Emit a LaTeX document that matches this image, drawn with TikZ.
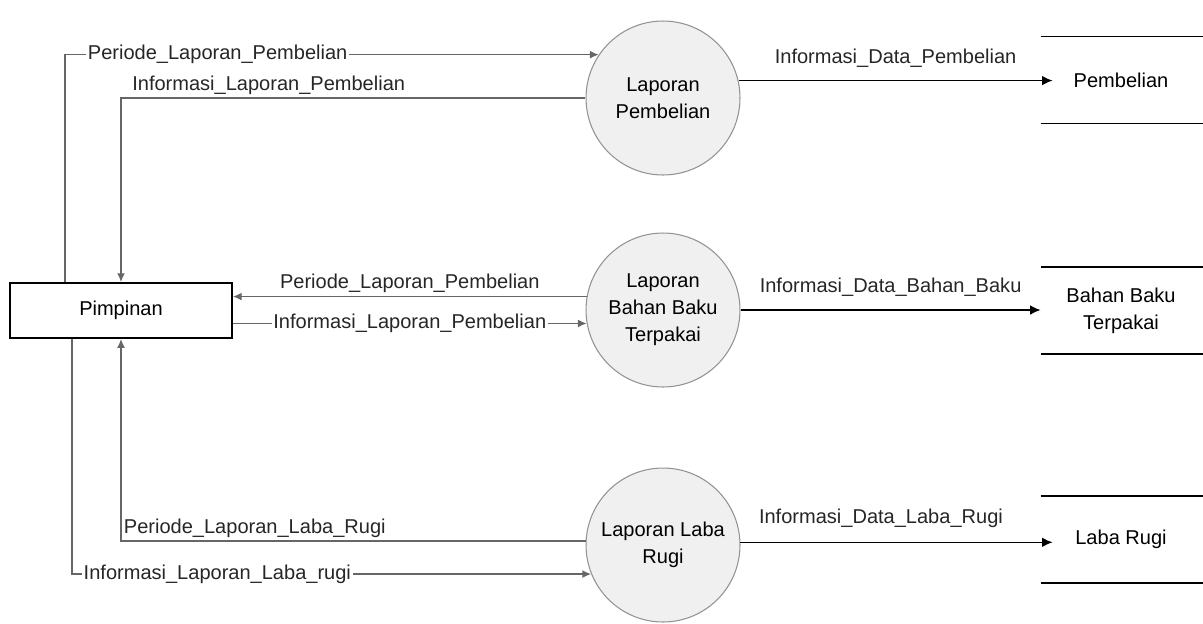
\documentclass[tikz,border=0pt]{standalone}
\usepackage{fontspec}
\setmainfont{Liberation Sans}
\usetikzlibrary{arrows.meta}
\begin{document}
\begin{tikzpicture}[x=0.02cm,y=-0.02cm,
        font=\fontsize{11.4}{15.3}\selectfont,
        proses/.style={draw=gray!85,fill=gray!12,line width=0.6pt,circle,minimum size=3.08cm,inner sep=0,align=center},
        entitas/.style={draw,line width=1.1pt,minimum width=4.44cm,minimum height=1.1cm},
        simpan/.style={minimum width=3.2cm,minimum height=1.72cm,align=center},
        aliran/.style={draw=gray!80!black,line width=0.8pt,-{Latex[length=5pt,width=4.5pt]}},
        keluar/.style={draw=black,line width=0.9pt,-{Latex[length=6pt,width=5.5pt]}},
        ket/.style={fill=white,inner sep=1pt,text=black!85}]
        \useasboundingbox (0,0) rectangle (1203,623);
        \node[entitas] (pimpinan) at (121,310.5) {Pimpinan};
        \node[proses] (lpb) at (663,98) {Laporan\\Pembelian};
        \node[proses] (lbb) at (663,310) {Laporan\\Bahan Baku\\Terpakai};
        \node[proses] (llr) at (663,545) {Laporan Laba\\Rugi};
        \node[simpan] (pembelian) at (1121,80) {Pembelian};
        \node[simpan] (bahanbaku) at (1121,310.5) {Bahan Baku\\Terpakai};
        \node[simpan] (labarugi) at (1121,539.5) {Laba Rugi};
        \foreach \s in {pembelian,bahanbaku,labarugi}{
            \draw[line width=0.9pt] (\s.north west) -- ++(4cm,0);
            \draw[line width=0.9pt] (\s.south west) -- ++(4cm,0);
        }
        \draw[aliran] ([xshift=-1.12cm]pimpinan.north) |- (lpb.146)
            node[ket,pos=0.643]{Periode\_Laporan\_Pembelian};
        \draw[aliran] (lpb.west) -| (pimpinan.north)
            node[ket,pos=0.341,above=0.5pt,fill=none]{Informasi\_Laporan\_Pembelian};
        \draw[aliran] (lbb.170) -- (lbb.170 -| pimpinan.east)
            node[ket,midway,above=1pt,fill=none]{Periode\_Laporan\_Pembelian};
        \draw[aliran] (lbb.190 -| pimpinan.east) -- (lbb.190)
            node[ket,midway]{Informasi\_Laporan\_Pembelian};
        \draw[aliran] (llr.177) -| (pimpinan.south)
            node[ket,pos=0.356,above=0.5pt,fill=none]{Periode\_Laporan\_Laba\_Rugi};
        \draw[aliran] ([xshift=-0.98cm]pimpinan.south) |- (llr.202)
            node[ket,pos=0.64]{Informasi\_Laporan\_Laba\_rugi};
        \draw[keluar] (lpb.13) -- ([xshift=0.24cm]lpb.13 -| pembelian.west)
            node[ket,midway,above=6pt,fill=none]{Informasi\_Data\_Pembelian};
        \draw[keluar] (lbb.east) -- (lbb.east -| bahanbaku.west)
            node[ket,midway,above=6pt,fill=none]{Informasi\_Data\_Bahan\_Baku};
        \draw[keluar] (llr.2) -- ([xshift=0.24cm]llr.2 -| labarugi.west)
            node[ket,pos=0.45,above=7pt,fill=none]{Informasi\_Data\_Laba\_Rugi};
    \end{tikzpicture}
\end{document}
